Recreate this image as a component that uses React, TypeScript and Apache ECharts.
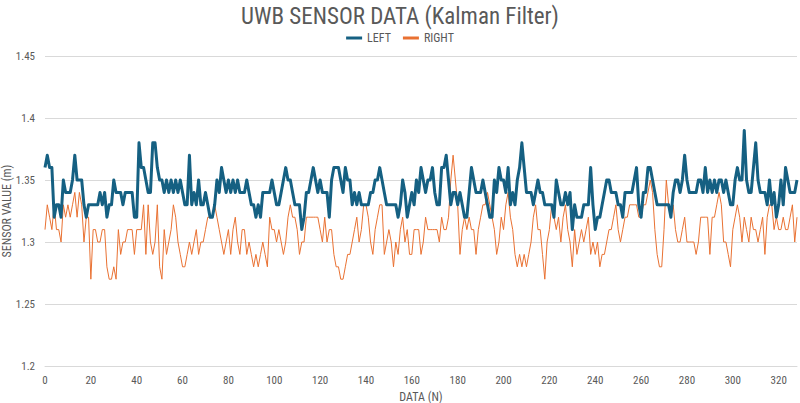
import React, { useEffect, useRef } from "react";
import * as echarts from "echarts";

const leftValues: number[] = [
  1.36, 1.37, 1.36, 1.36, 1.32, 1.33, 1.33, 1.32, 1.35, 1.34,
  1.34, 1.34, 1.35, 1.37, 1.35, 1.35, 1.35, 1.33, 1.32, 1.33,
  1.33, 1.33, 1.33, 1.33, 1.34, 1.33, 1.34, 1.32, 1.33, 1.33,
  1.35, 1.34, 1.34, 1.34, 1.33, 1.34, 1.34, 1.34, 1.34, 1.32,
  1.32, 1.38, 1.36, 1.36, 1.35, 1.34, 1.34, 1.38, 1.38, 1.36,
  1.35, 1.35, 1.34, 1.35, 1.34, 1.35, 1.34, 1.35, 1.34, 1.35,
  1.34, 1.33, 1.33, 1.37, 1.33, 1.34, 1.33, 1.35, 1.33, 1.33,
  1.34, 1.33, 1.32, 1.32, 1.33, 1.35, 1.34, 1.36, 1.35, 1.34,
  1.35, 1.34, 1.35, 1.34, 1.35, 1.34, 1.34, 1.34, 1.35, 1.34,
  1.33, 1.33, 1.32, 1.33, 1.32, 1.34, 1.34, 1.34, 1.34, 1.35,
  1.34, 1.33, 1.33, 1.34, 1.35, 1.36, 1.35, 1.35, 1.34, 1.33,
  1.33, 1.33, 1.31, 1.32, 1.34, 1.34, 1.35, 1.36, 1.35, 1.34,
  1.35, 1.34, 1.34, 1.34, 1.32, 1.35, 1.36, 1.36, 1.36, 1.35,
  1.34, 1.36, 1.35, 1.35, 1.33, 1.34, 1.33, 1.34, 1.33, 1.33,
  1.33, 1.33, 1.34, 1.34, 1.35, 1.35, 1.36, 1.35, 1.34, 1.33,
  1.33, 1.33, 1.33, 1.33, 1.32, 1.33, 1.35, 1.34, 1.32, 1.33,
  1.34, 1.33, 1.35, 1.34, 1.36, 1.35, 1.34, 1.35, 1.35, 1.36,
  1.34, 1.33, 1.33, 1.36, 1.36, 1.37, 1.35, 1.33, 1.34, 1.34,
  1.33, 1.34, 1.33, 1.32, 1.32, 1.34, 1.36, 1.35, 1.34, 1.34,
  1.34, 1.35, 1.34, 1.33, 1.32, 1.32, 1.35, 1.34, 1.36, 1.35,
  1.35, 1.34, 1.36, 1.33, 1.34, 1.33, 1.35, 1.36, 1.38, 1.36,
  1.34, 1.34, 1.34, 1.33, 1.34, 1.35, 1.34, 1.34, 1.33, 1.33,
  1.33, 1.33, 1.32, 1.35, 1.34, 1.33, 1.33, 1.34, 1.33, 1.34,
  1.31, 1.33, 1.32, 1.32, 1.32, 1.33, 1.33, 1.33, 1.36, 1.33,
  1.31, 1.32, 1.32, 1.33, 1.34, 1.35, 1.35, 1.34, 1.34, 1.34,
  1.33, 1.33, 1.32, 1.34, 1.34, 1.34, 1.34, 1.35, 1.36, 1.33,
  1.32, 1.34, 1.34, 1.36, 1.36, 1.35, 1.34, 1.33, 1.33, 1.33,
  1.33, 1.33, 1.33, 1.32, 1.34, 1.35, 1.35, 1.34, 1.35, 1.37,
  1.35, 1.34, 1.34, 1.34, 1.34, 1.35, 1.35, 1.34, 1.36, 1.34,
  1.35, 1.34, 1.35, 1.34, 1.35, 1.35, 1.34, 1.35, 1.34, 1.33,
  1.33, 1.35, 1.36, 1.35, 1.35, 1.39, 1.35, 1.34, 1.34, 1.36,
  1.38, 1.35, 1.34, 1.34, 1.34, 1.33, 1.35, 1.33, 1.34, 1.32,
  1.33, 1.35, 1.33, 1.36, 1.35, 1.34, 1.34, 1.34, 1.35,
];

const rightValues: number[] = [
  1.31, 1.33, 1.32, 1.31, 1.33, 1.31, 1.31, 1.30, 1.33, 1.32,
  1.33, 1.32, 1.33, 1.34, 1.32, 1.34, 1.33, 1.30, 1.32, 1.32,
  1.27, 1.31, 1.31, 1.30, 1.30, 1.31, 1.31, 1.28, 1.27, 1.27,
  1.28, 1.27, 1.31, 1.29, 1.30, 1.30, 1.31, 1.31, 1.31, 1.29,
  1.31, 1.31, 1.31, 1.33, 1.29, 1.33, 1.30, 1.29, 1.30, 1.33,
  1.28, 1.27, 1.31, 1.29, 1.30, 1.31, 1.33, 1.32, 1.30, 1.29,
  1.28, 1.28, 1.29, 1.30, 1.29, 1.30, 1.31, 1.29, 1.30, 1.30,
  1.31, 1.32, 1.32, 1.32, 1.33, 1.32, 1.31, 1.30, 1.29, 1.30,
  1.31, 1.29, 1.31, 1.32, 1.30, 1.29, 1.31, 1.31, 1.29, 1.30,
  1.29, 1.28, 1.29, 1.28, 1.29, 1.30, 1.29, 1.28, 1.32, 1.31,
  1.31, 1.30, 1.31, 1.30, 1.29, 1.30, 1.32, 1.33, 1.32, 1.32,
  1.31, 1.29, 1.30, 1.30, 1.32, 1.32, 1.32, 1.32, 1.32, 1.32,
  1.31, 1.30, 1.32, 1.30, 1.31, 1.31, 1.29, 1.28, 1.28, 1.27,
  1.27, 1.28, 1.29, 1.29, 1.30, 1.31, 1.32, 1.30, 1.31, 1.33,
  1.33, 1.32, 1.30, 1.29, 1.31, 1.32, 1.33, 1.33, 1.29, 1.30,
  1.31, 1.30, 1.28, 1.30, 1.29, 1.31, 1.32, 1.30, 1.31, 1.29,
  1.29, 1.31, 1.31, 1.31, 1.29, 1.30, 1.32, 1.31, 1.31, 1.31,
  1.31, 1.31, 1.30, 1.32, 1.31, 1.31, 1.32, 1.35, 1.37, 1.35,
  1.33, 1.29, 1.31, 1.32, 1.31, 1.32, 1.31, 1.31, 1.29, 1.31,
  1.32, 1.33, 1.33, 1.34, 1.33, 1.32, 1.31, 1.29, 1.30, 1.32,
  1.31, 1.33, 1.34, 1.32, 1.31, 1.29, 1.28, 1.29, 1.28, 1.29,
  1.28, 1.29, 1.30, 1.32, 1.33, 1.31, 1.31, 1.29, 1.27, 1.30,
  1.31, 1.33, 1.32, 1.31, 1.32, 1.30, 1.32, 1.33, 1.31, 1.30,
  1.28, 1.31, 1.29, 1.30, 1.31, 1.30, 1.31, 1.32, 1.29, 1.30,
  1.29, 1.30, 1.28, 1.29, 1.29, 1.30, 1.31, 1.31, 1.32, 1.33,
  1.31, 1.30, 1.31, 1.32, 1.32, 1.33, 1.33, 1.33, 1.33, 1.32,
  1.32, 1.33, 1.33, 1.34, 1.35, 1.34, 1.31, 1.29, 1.28, 1.28,
  1.31, 1.35, 1.33, 1.32, 1.33, 1.31, 1.30, 1.30, 1.31, 1.32,
  1.30, 1.30, 1.30, 1.30, 1.29, 1.30, 1.32, 1.32, 1.32, 1.32,
  1.29, 1.32, 1.32, 1.33, 1.34, 1.33, 1.30, 1.30, 1.29, 1.28,
  1.31, 1.32, 1.33, 1.32, 1.30, 1.32, 1.31, 1.30, 1.32, 1.31,
  1.31, 1.30, 1.31, 1.32, 1.29, 1.32, 1.33, 1.33, 1.31, 1.32,
  1.31, 1.31, 1.32, 1.31, 1.31, 1.32, 1.33, 1.30, 1.32,
];

const seriesNames = ["LEFT", "RIGHT"];
const titleText = "UWB SENSOR DATA (Kalman Filter)";
const xAxisName = "DATA (N)";
const yAxisName = "SENSOR VALUE (m)";

const FONT = "'Liberation Sans Narrow', 'Roboto Condensed', Roboto, sans-serif";
const TEXT_COLOR = "#595959";

export default function App() {
  const ref = useRef<HTMLDivElement>(null);

  useEffect(() => {
    if (!ref.current) return;
    const chart = echarts.init(ref.current, undefined, { renderer: "svg" });
    const toPairs = (arr: number[]) => arr.map((v, i) => [i, v]);
    chart.setOption({
      animation: false,
      backgroundColor: "#ffffff",
      title: {
        text: titleText,
        left: "center",
        top: 0,
        textStyle: {
          fontFamily: FONT,
          fontSize: 23,
          fontWeight: "normal",
          color: TEXT_COLOR,
        },
      },
      legend: {
        top: 27,
        left: "center",
        itemWidth: 16,
        itemHeight: 3,
        itemGap: 12,
        icon: "rect",
        textStyle: { fontFamily: FONT, fontSize: 12, color: TEXT_COLOR },
        data: seriesNames,
      },
      grid: {
        left: 45,
        right: 3,
        top: 56,
        bottom: 37,
        containLabel: false,
        outerBoundsMode: "none",
      },
      xAxis: {
        type: "value",
        min: 0,
        max: 328,
        interval: 20,
        name: xAxisName,
        nameLocation: "middle",
        nameGap: 25,
        nameMoveOverlap: false,
        nameTextStyle: { fontFamily: FONT, fontSize: 12, color: TEXT_COLOR },
        axisLine: { show: true, lineStyle: { color: "#d9d9d9", width: 1 } },
        axisTick: { show: false },
        splitLine: { show: false },
        axisLabel: {
          fontFamily: FONT,
          fontSize: 11,
          color: TEXT_COLOR,
          margin: 9,
          showMaxLabel: false,
        },
      },
      yAxis: {
        type: "value",
        min: 1.2,
        max: 1.45,
        interval: 0.05,
        name: yAxisName,
        nameLocation: "middle",
        nameGap: 32,
        nameRotate: 90,
        nameMoveOverlap: false,
        nameTextStyle: { fontFamily: FONT, fontSize: 12, color: TEXT_COLOR },
        axisLine: { show: false },
        axisTick: { show: false },
        splitLine: { show: true, lineStyle: { color: "#d9d9d9", width: 1 } },
        axisLabel: {
          fontFamily: FONT,
          fontSize: 11,
          color: TEXT_COLOR,
          margin: 10,
          formatter: (v: number) => String(parseFloat(v.toFixed(2))),
        },
      },
      series: [
        {
          name: seriesNames[0],
          type: "line",
          data: toPairs(leftValues),
          showSymbol: false,
          symbol: "none",
          lineStyle: { color: "#156082", width: 3, join: "round" },
          itemStyle: { color: "#156082" },
          z: 3,
        },
        {
          name: seriesNames[1],
          type: "line",
          data: toPairs(rightValues),
          showSymbol: false,
          symbol: "none",
          lineStyle: { color: "#E97132", width: 1 },
          itemStyle: { color: "#E97132" },
          z: 2,
        },
      ],
    });
    return () => chart.dispose();
  }, []);

  return <div ref={ref} style={{ width: 800, height: 403, position: "absolute", left: 0, top: 0 }} />;
}
